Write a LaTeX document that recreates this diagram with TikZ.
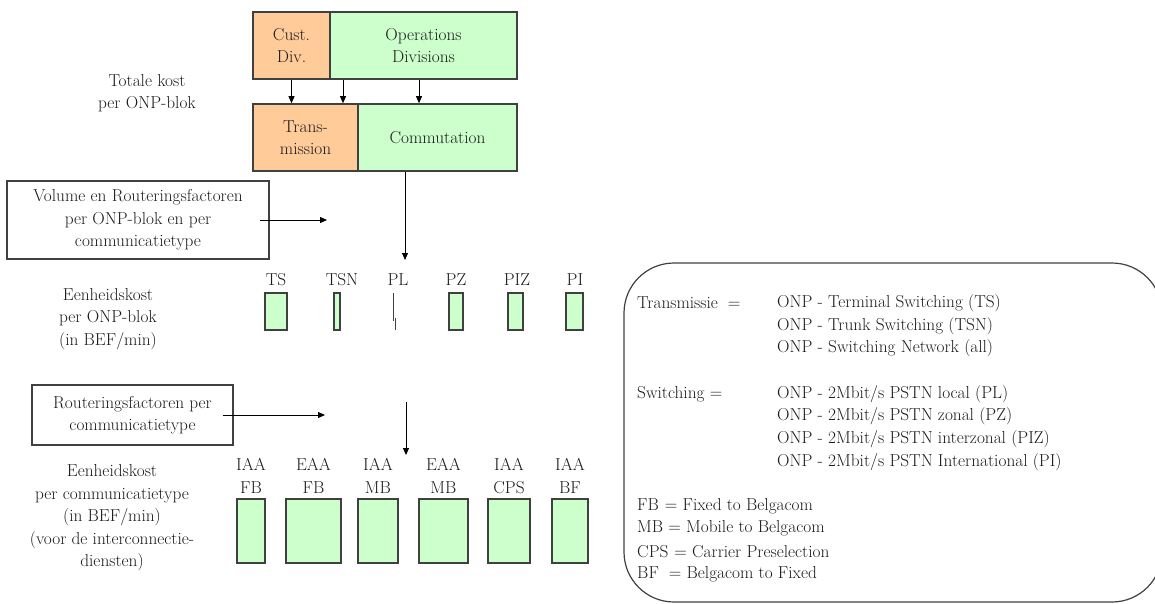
\documentclass[tikz,border=0pt]{standalone}
\usetikzlibrary{arrows.meta}
\definecolor{boxgreen}{HTML}{CCFFCC}
\definecolor{boxorange}{HTML}{FFCC99}
\definecolor{edge}{HTML}{404040}
\definecolor{ink}{HTML}{1A1A1A}

\begin{document}
\begin{tikzpicture}[x=1pt, y=-1pt,
    every node/.style={font=\fontsize{17.3}{22.5}\selectfont, text=ink, inner sep=0pt, align=center},
    divbox/.style={draw=edge, line width=1.6pt, minimum height=67pt},
    bar/.style={draw=edge, line width=1.2pt, fill=boxgreen},
    framebox/.style={draw=edge, line width=1.2pt},
    arr/.style={-{Triangle[length=7pt,width=6pt]}, line width=0.8pt}]
    \useasboundingbox (0,0) rectangle (1155,603);
    \clip (0,0) rectangle (1155,603);
    % kostblokken bovenaan
    \node[divbox, fill=boxorange, minimum width=77pt] (cust) at (291.5,45.5) {Cust.\\Div.};
    \node[divbox, fill=boxgreen, minimum width=187pt] (ops) at (423.5,45.5) {Operations\\Divisions};
    \node[divbox, fill=boxorange, minimum width=105pt] (trans) at (305.5,137.5) {Trans-\\mission};
    \node[divbox, fill=boxgreen, minimum width=159pt] (comm) at (437.5,137.5) {Commutation};
    \coordinate (kx) at (343,0);
    \coordinate (lx) at (419,0);
    \draw[arr] (cust.south) -- (cust.south |- trans.north);
    \draw[arr] (ops.south -| kx) -- (trans.north -| kx);
    \draw[arr] (ops.south -| lx) -- (comm.north -| lx);
    \node (totaal) at (147,93) {Totale kost\\per ONP-blok};
    % eenheidskost per ONP-blok
    \node[framebox, minimum width=262pt, minimum height=78pt] (vol) at (138,220)
        {Volume en Routeringsfactoren\\per ONP-blok en per\\communicatietype};
    \coordinate (volend) at (327,220);
    \coordinate (pltip) at (405,260);
    \draw[arr] ([xshift=-10pt]vol.east) -- (volend);
    \draw[arr] (comm.south -| pltip) -- (pltip);
    \node (ekost) at (108,319) {Eenheidskost\\per ONP-blok\\(in BEF/min)};
    \foreach \n/\lab/\lx/\xa/\xb in {ts/TS/276/265/287, tsn/TSN/342/334/340, pz/PZ/456/449/463,
                                     piz/PIZ/517/508/523, pi/PI/575/566/583} {
        \pgfmathsetmacro{\bw}{\xb-\xa}
        \pgfmathsetmacro{\bx}{(\xa+\xb)/2}
        \node[bar, minimum width=\bw pt, minimum height=37pt] (b\n) at (\bx,311.5) {};
        \node (l\n) at (\lx,280) {\lab};
    }
    \node (lpl) at (398,280) {PL};
    \draw[edge, line width=1pt] (393,293) -- (393,321);
    \draw[edge, line width=1pt] (395,318) -- (395,330);
    % eenheidskost per communicatietype
    \node[framebox, minimum width=201pt, minimum height=60pt] (rout) at (132.5,415)
        {Routeringsfactoren per\\communicatietype};
    \coordinate (routend) at (325,415);
    \coordinate (rtop) at (406,402);
    \coordinate (rtip) at (406,455);
    \draw[arr] ([xshift=-11pt]rout.east) -- (routend);
    \draw[arr] (rtop) -- (rtip);
    \node (ckost) at (112,518) {Eenheidskost\\per communicatietype\\(in BEF/min)\\(voor de interconnectie-\\diensten)};
    \foreach \n/\lab/\xa/\xb in {iaafb/IAA\\FB/237/265, eaafb/EAA\\FB/286/341, iaamb/IAA\\MB/358/398,
                                 eaamb/EAA\\MB/419/468, iaacps/IAA\\CPS/488/530, iaabf/IAA\\BF/552/588} {
        \pgfmathsetmacro{\bw}{\xb-\xa}
        \pgfmathsetmacro{\bx}{(\xa+\xb)/2}
        \node[bar, minimum width=\bw pt, minimum height=64pt] (c\n) at (\bx,531) {};
        \node (t\n) at (\bx,476) {\lab};
    }
    % legende
    \draw[edge, line width=1.2pt, rounded corners=50pt] (624,263) rectangle (1162,602);
    \node[anchor=west] (transm) at (637,303) {Transmissie\hspace{10pt}=};
    \foreach \i/\t in {0/{Terminal Switching (TS)}, 1/{Trunk Switching (TSN)}, 2/{Switching Network (all)}}
        \node[anchor=west] (tx\i) at (777,303+22.7*\i) {ONP - \t};
    \node[anchor=west] (switch) at (637,393.8) {Switching =};
    \foreach \i/\t in {0/{local (PL)}, 1/{zonal (PZ)}, 2/{interzonal (PIZ)}, 3/{International (PI)}}
        \node[anchor=west] (sx\i) at (777,393.8+22.7*\i) {ONP - 2Mbit/s PSTN \t};
    \node[anchor=west] (fb) at (637,506) {FB\hspace{6pt}= Fixed to Belgacom};
    \node[anchor=west] (mb) at (637,528.7) {MB = Mobile to Belgacom};
    \node[anchor=west] (cps) at (637,551.4) {CPS\hspace{6pt}= Carrier Preselection};
    \node[anchor=west] (bf) at (637,574.1) {BF\hspace{10pt}= Belgacom to Fixed};
\end{tikzpicture}
\end{document}
